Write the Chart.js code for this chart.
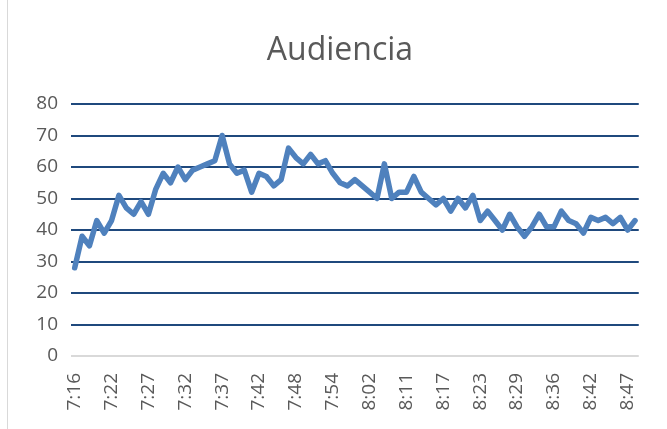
<!DOCTYPE html>
<html>
<head>
<meta charset="utf-8">
<script src="https://cdn.jsdelivr.net/npm/chart.js@4"></script>
<style>
  html, body { margin: 0; padding: 0; background: #fff; }
  #wrap { position: relative; width: 667px; height: 429px; }
  #frame { position: absolute; left: 7px; top: 0; width: 0; height: 429px; border-left: 1px solid #d9d9d9; }
  canvas { position: absolute; left: 0; top: 0; }
</style>
</head>
<body>
<div id="wrap">
  <div id="frame"></div>
  <canvas id="audienceChart" width="667" height="429"></canvas>
</div>
<script>
const times = [
  "7:16", "7:17", "7:18", "7:19", "7:21",
  "7:22", "7:23", "7:24", "7:25", "7:26",
  "7:27", "7:28", "7:29", "7:30", "7:31",
  "7:32", "7:33", "7:34", "7:35", "7:36",
  "7:37", "7:38", "7:39", "7:40", "7:41",
  "7:42", "7:43", "7:44", "7:46", "7:47",
  "7:48", "7:49", "7:50", "7:51", "7:53",
  "7:54", "7:55", "7:57", "7:58", "8:00",
  "8:02", "8:04", "8:05", "8:07", "8:09",
  "8:11", "8:12", "8:13", "8:14", "8:16",
  "8:17", "8:18", "8:19", "8:20", "8:22",
  "8:23", "8:24", "8:25", "8:26", "8:28",
  "8:29", "8:30", "8:32", "8:33", "8:35",
  "8:36", "8:37", "8:38", "8:39", "8:41",
  "8:42", "8:43", "8:44", "8:45", "8:46",
  "8:47", "8:48"
];

const audiencia = [
  28, 38, 35, 43, 39,
  43, 51, 47, 45, 49,
  45, 53, 58, 55, 60,
  56, 59, 60, 61, 62,
  70, 61, 58, 59, 52,
  58, 57, 54, 56, 66,
  63, 61, 64, 61, 62,
  58, 55, 54, 56, 54,
  52, 50, 61, 50, 52,
  52, 57, 52, 50, 48,
  50, 46, 50, 47, 51,
  43, 46, 43, 40, 45,
  41, 38, 41, 45, 41,
  41, 46, 43, 42, 39,
  44, 43, 44, 42, 44,
  40, 43
];

const yTicks = [0, 10, 20, 30, 40, 50, 60, 70, 80];
const labelEvery = 5;

const textColor = "#595959";
const fontFamily = "'Open Sans', 'Liberation Sans', sans-serif";

const ctx = document.getElementById("audienceChart").getContext("2d");

new Chart(ctx, {
  type: "line",
  data: {
    labels: times,
    datasets: [{
      label: "Audiencia",
      data: audiencia,
      borderColor: "#4f81bd",
      borderWidth: 5.5,
      borderJoinStyle: "round",
      borderCapStyle: "round",
      pointRadius: 0,
      tension: 0,
      fill: false
    }]
  },
  options: {
    responsive: false,
    animation: false,
    // left padding keeps the title centred like the original
    layout: { padding: { left: 34, right: 21, top: 0, bottom: 0 } },
    plugins: {
      legend: { display: false },
      tooltip: { enabled: false },
      title: {
        display: true,
        text: "Audiencia",
        color: textColor,
        font: { family: fontFamily, size: 32, weight: "normal", lineHeight: 1.2 },
        padding: { top: 32, bottom: 33.6 }
      }
    },
    scales: {
      x: {
        offset: true,
        grid: { display: false },
        border: { display: false },
        afterFit: (scale) => { scale.height = 73; },
        ticks: {
          autoSkip: false,
          minRotation: 90,
          maxRotation: 90,
          padding: 9,
          color: textColor,
          font: { family: fontFamily, size: 19 },
          callback: (val, i) => (i % labelEvery === 0 ? times[i] : "")
        }
      },
      y: {
        min: yTicks[0],
        max: yTicks[yTicks.length - 1],
        afterFit: (scale) => { scale.width = 37; },
        afterBuildTicks: (scale) => { scale.ticks = yTicks.map(v => ({ value: v })); },
        border: { display: false },
        grid: {
          drawTicks: false,
          lineWidth: 2,
          color: (c) => (c.tick && c.tick.value === 0 ? "#d9d9d9" : "#1f497d")
        },
        ticks: {
          padding: 13,
          color: textColor,
          font: { family: fontFamily, size: 19 }
        }
      }
    }
  }
});
</script>
</body>
</html>
